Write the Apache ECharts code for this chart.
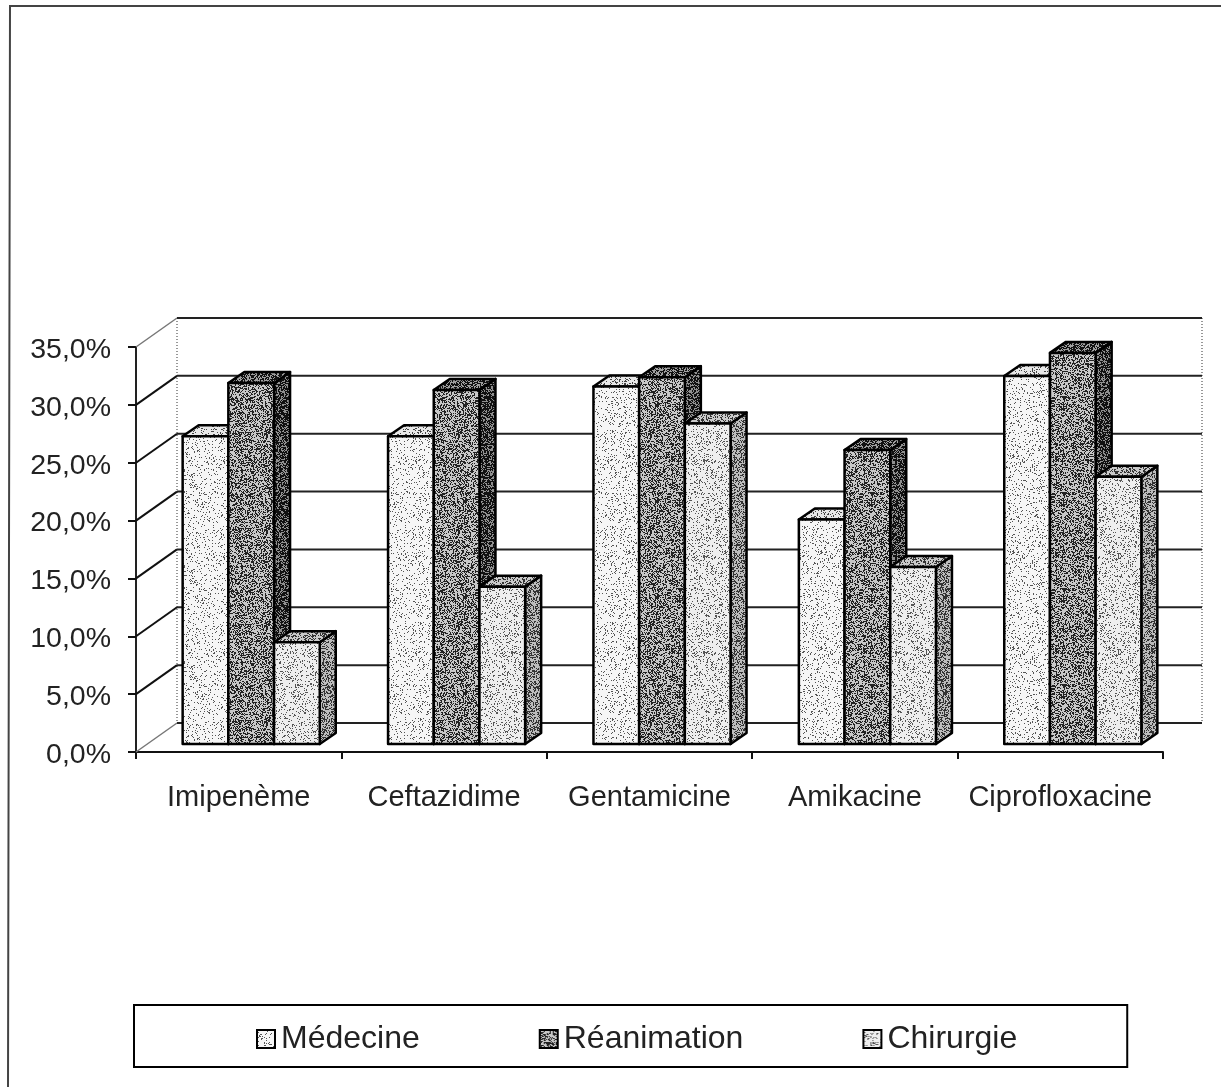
<!DOCTYPE html>
<html>
<head>
<meta charset="utf-8">
<style>
html,body{margin:0;padding:0;background:#fff;}
#chart{width:1221px;height:1087px;}
</style>
<script src="https://cdn.jsdelivr.net/npm/echarts@6/dist/echarts.min.js"></script>
</head>
<body>
<div id="chart"></div>
<script>
var categories = ['Imipenème','Ceftazidime','Gentamicine','Amikacine','Ciprofloxacine'];
var seriesNames = ['Médecine','Réanimation','Chirurgie'];
var medecine = [26.6,26.6,30.9,19.4,31.8];
var reanimation = [31.2,30.6,31.7,25.4,33.8];
var chirurgie = [8.8,13.6,27.7,15.3,23.1];
var yTicks = [0,5,10,15,20,25,30,35];

var fontName = '"Liberation Sans", Arial, sans-serif';
var wallDx = 41, wallDy = -29;   //profondeur du fond
var barDx = 12.5, barDy = -8;    //decalage des barres par rapport a l'axe
var sideDx = 16, sideDy = -11;   //profondeur des barres
var barRatio = 0.2225;

//texture type scan, un tile fixe repete
function stipple(base, dot, density){
	var size = 96;
	var cv = document.createElement('canvas');
	cv.width = size;
	cv.height = size;
	var ctx = cv.getContext('2d');
	ctx.fillStyle = base;
	ctx.fillRect(0,0,size,size);
	ctx.fillStyle = dot;
	for(var y=0;y<size;y++){
		for(var x=0;x<size;x++){
			var h = Math.sin(x*12.9898+y*78.233)*43758.5453;
			if(h-Math.floor(h) < density){
				ctx.fillRect(x,y,1,1);
			}
		}
	}
	return {image:cv,repeat:'repeat'};
}

var faces = [
	{front:stipple('#f6f6f6','#555',0.12),top:stipple('#e8e8e8','#444',0.22),side:stipple('#bbb','#222',0.4)},
	{front:stipple('#c8c8c8','#222',0.44),top:stipple('#a0a0a0','#111',0.55),side:stipple('#909090','#111',0.62)},
	{front:stipple('#eeeeee','#555',0.18),top:stipple('#cacaca','#333',0.36),side:stipple('#bdbdbd','#333',0.42)}
];

function renderWalls(params, api){
	var sys = params.coordSys;
	var y = api.coord([0,api.value(0)])[1];
	var edge = api.value(0)==0 || api.value(0)==35;
	var children = [
		{type:'line',shape:{x1:sys.x,y1:y,x2:sys.x+wallDx,y2:y+wallDy},
			style:{stroke:edge?'#777':'#111',lineWidth:edge?1.5:2,fill:null}},
		{type:'line',shape:{x1:sys.x+wallDx,y1:y+wallDy,x2:sys.x+sys.width+wallDx-2,y2:y+wallDy},
			style:{stroke:'#222',lineWidth:2,fill:null}}
	];
	if(api.value(0)==0){
		var top = api.coord([0,35])[1];
		children.push({type:'line',shape:{x1:sys.x+wallDx,y1:top+wallDy,x2:sys.x+wallDx,y2:y+wallDy},
			style:{stroke:'#777',lineWidth:1.5,lineDash:[1,2],fill:null}});
		children.push({type:'line',shape:{x1:sys.x+sys.width+wallDx-2,y1:top+wallDy,x2:sys.x+sys.width+wallDx-2,y2:y+wallDy},
			style:{stroke:'#777',lineWidth:1.5,lineDash:[1,2],fill:null}});
	}
	return {type:'group',children:children};
}

function renderBar(serie){
	return function(params, api){
		var cat = api.value(0);
		var band = api.size([1,0])[0];
		var w = band*barRatio;
		var p = api.coord([cat,api.value(1)]);
		var p0 = api.coord([cat,0]);
		var x0 = p[0]+barDx-1.5*w+serie*w;
		var x1 = x0+w;
		var yt = p[1]+barDy;
		var yb = p0[1]+barDy;
		function face(points, fill){
			return {type:'polygon',shape:{points:points},
				style:{fill:fill,stroke:'#000',lineWidth:2.5,lineJoin:'round'}};
		}
		return {type:'group',children:[
			face([[x1,yt],[x1+sideDx,yt+sideDy],[x1+sideDx,yb+sideDy],[x1,yb]],faces[serie].side),
			face([[x0,yt],[x0+sideDx,yt+sideDy],[x1+sideDx,yt+sideDy],[x1,yt]],faces[serie].top),
			face([[x0,yt],[x1,yt],[x1,yb],[x0,yb]],faces[serie].front)
		]};
	};
}

function barSeries(name, values, serie){
	return {
		name:name,
		type:'custom',
		renderItem:renderBar(serie),
		clip:false,
		encode:{x:0,y:1},
		itemStyle:{color:faces[serie].front,borderColor:'#000',borderWidth:2.5},
		data:values.map(function(v,i){return [i,v];})
	};
}

var myChart = echarts.init(document.getElementById('chart'),null,{renderer:'canvas'});
var option = {
	animation:false,
	backgroundColor:'#fff',
	textStyle:{fontFamily:fontName},
	grid:{left:136,right:58,top:347,bottom:335,containLabel:false},
	graphic:[
		{type:'polyline',silent:true,z:0,shape:{points:[[8,1087],[10,6],[1221,6]]},style:{stroke:'#444',lineWidth:2,fill:null}}
	],
	legend:{
		left:134,
		top:1005,
		orient:'horizontal',
		padding:[18,110,12,122],
		itemGap:119,
		itemWidth:18,
		itemHeight:18,
		borderColor:'#000',
		borderWidth:2,
		formatter:function(n){return '{t|'+n+'}';},
		textStyle:{fontFamily:fontName,fontSize:32,color:'#222',
			rich:{t:{fontFamily:fontName,fontSize:32,color:'#222',padding:[0,0,0,1]}}},
		data:seriesNames.map(function(n){return {name:n,icon:'rect'};})
	},
	xAxis:{
		type:'category',
		data:categories,
		boundaryGap:true,
		axisLine:{show:true,lineStyle:{color:'#111',width:2}},
		axisTick:{show:true,alignWithLabel:false,length:7,lineStyle:{color:'#111',width:2}},
		axisLabel:{color:'#222',fontSize:29,fontFamily:fontName,margin:31,interval:0}
	},
	yAxis:{
		type:'value',
		min:0,
		max:35,
		interval:5,
		axisLine:{show:true,lineStyle:{color:'#222',width:2}},
		axisTick:{show:true,length:8,lineStyle:{color:'#111',width:2}},
		splitLine:{show:false},
		axisLabel:{margin:25,
			formatter:function(v){return '{v|'+v.toFixed(1).replace('.',',')+'%}';},
			rich:{v:{color:'#222',fontSize:28.5,fontFamily:fontName,padding:[6,0,0,0]}}}
	},
	series:[
		{name:'walls',type:'custom',renderItem:renderWalls,clip:false,encode:{y:0},
			data:yTicks.map(function(v){return [v];})},
		barSeries(seriesNames[0],medecine,0),
		barSeries(seriesNames[1],reanimation,1),
		barSeries(seriesNames[2],chirurgie,2)
	]
};
myChart.setOption(option);
</script>
</body>
</html>
